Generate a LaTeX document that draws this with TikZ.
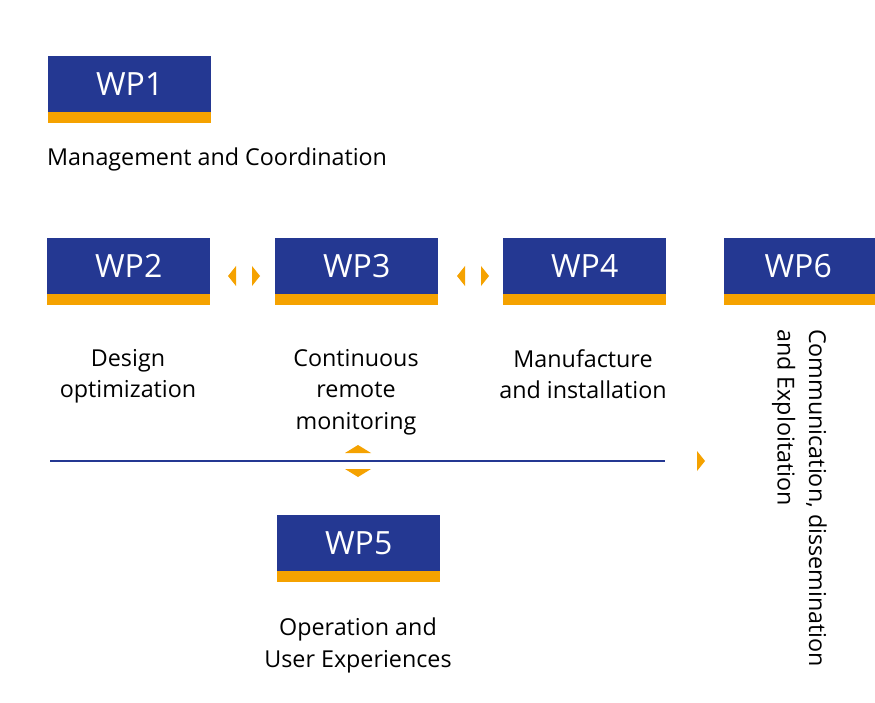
\documentclass[tikz,border=0pt]{standalone}
\usepackage{fontspec}
\setmainfont{Open Sans}
\definecolor{wpblue}{RGB}{36,56,146}
\definecolor{wporange}{RGB}{245,162,0}
\begin{document}
\begin{tikzpicture}[x=1pt,y=-1pt,
  wpbox/.style={draw=none,fill=wpblue,minimum width=163pt,minimum height=56pt,inner sep=0pt,text=white,font=\fontsize{32}{34}\selectfont,anchor=north west},
  bar/.style={fill=wporange},
  lbl/.style={font=\fontsize{23.3}{31.5}\selectfont,align=center,inner sep=0pt},
  tri/.style={fill=wporange}]
\useasboundingbox (0,0) rectangle (875,703);
\fill[white] (0,0) rectangle (875,703);
% boxes
\node[wpbox] (wp1) at (48,56) {WP1};
\fill[bar] (wp1.south west) rectangle ++(163,11);
\node[wpbox] (wp2) at (47,238) {WP2};
\fill[bar] (wp2.south west) rectangle ++(163,11);
\node[wpbox] (wp3) at (275,238) {WP3};
\fill[bar] (wp3.south west) rectangle ++(163,11);
\node[wpbox] (wp4) at (503,238) {WP4};
\fill[bar] (wp4.south west) rectangle ++(163,11);
\node[wpbox,minimum width=160pt] (wp6) at (724,238) {\hspace*{-12pt}WP6};
\fill[bar] (wp6.south west) rectangle ++(160,11);
\node[wpbox] (wp5) at (277,515) {WP5};
\fill[bar] (wp5.south west) rectangle ++(163,11);
% labels
\node[lbl,anchor=west] (l1) at (47,159) {Management and Coordination};
\node[lbl,anchor=north] (l2) at (128,349) {Design\\optimization};
\node[lbl,anchor=north] (l3) at (356,349) {Continuous\\remote\\monitoring};
\node[lbl,anchor=north] (l4) at (583,349) {Manufacture\\and installation};
\node[lbl,anchor=north] (l5) at (358,618) {Operation and\\User Experiences};
\node[lbl,align=left,rotate=-90,anchor=north west] (l6) at (827,329) {Communication, dissemination\\and Exploitation};
% small arrow heads between boxes
\fill[tri] (228,276) -- (236,266) -- (236,286) -- cycle;
\fill[tri] (260,276) -- (252,266) -- (252,286) -- cycle;
\fill[tri] (457,276) -- (465,266) -- (465,286) -- cycle;
\fill[tri] (489,276) -- (481,266) -- (481,286) -- cycle;
% horizontal line
\coordinate (hl) at (50,461);
\coordinate (hr) at (665,461);
\draw[wpblue,line width=1.6pt] (hl) -- (hr);
\fill[tri] (358,445) -- (371,453) -- (345,453) -- cycle;
\fill[tri] (358,477) -- (371,469) -- (345,469) -- cycle;
\fill[tri] (705,461) -- (697,451) -- (697,471) -- cycle;
\end{tikzpicture}
\end{document}
